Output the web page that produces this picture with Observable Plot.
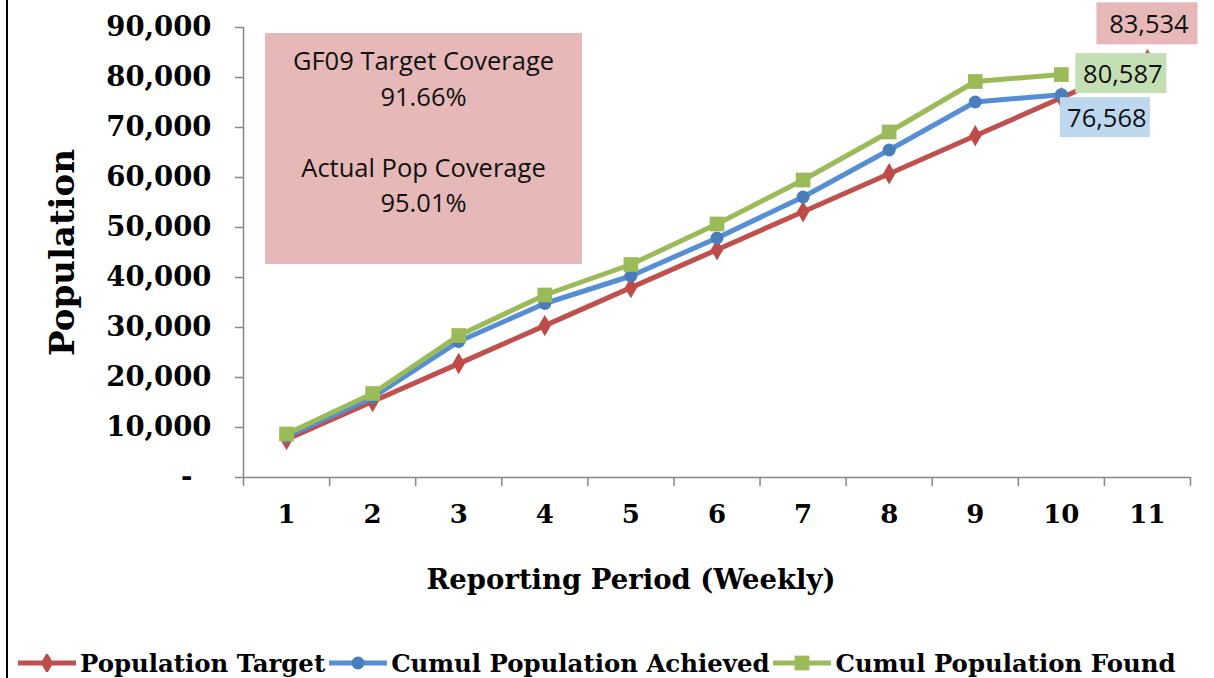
<!DOCTYPE html>
<html><head><meta charset="utf-8">
<script src="https://cdn.jsdelivr.net/npm/d3@7"></script>
<script src="https://cdn.jsdelivr.net/npm/@observablehq/plot@0.6"></script>
<style>
body{margin:0;background:#fff;width:1214px;height:678px;overflow:hidden;position:relative;}
#chart{position:absolute;left:0;top:0;}
#frame{position:absolute;left:6px;top:0;width:2px;height:678px;background:#000;}
#coverage{position:absolute;left:265px;top:33px;width:317px;height:231px;background:#E6B9B8;
  font-family:"Open Sans";font-size:25.5px;color:#111;text-align:center;line-height:35.5px;padding-top:10px;box-sizing:border-box;}
#legend{position:absolute;left:18px;top:647px;height:32px;display:flex;align-items:center;
  font-family:"DejaVu Serif";font-weight:bold;font-size:24.4px;color:#000;white-space:nowrap;}
#legend .item{display:flex;align-items:center;margin-right:4px;}
#legend svg{margin-right:4px;}
</style></head><body>
<div id="chart"></div>
<div id="frame"></div>
<div id="coverage">GF09 Target Coverage<br>91.66%<br><br>Actual Pop Coverage<br>95.01%</div>
<div id="legend"></div>
<script>
const periods = [1, 2, 3, 4, 5, 6, 7, 8, 9, 10, 11];
const populationTarget = [7594, 15188, 22782, 30376, 37970, 45564, 53158, 60752, 68346, 75940, 83534];
const cumulAchieved = [8200, 16000, 27200, 34800, 40300, 47900, 56100, 65500, 75100, 76568, null];
const cumulFound = [8700, 16800, 28400, 36500, 42600, 50700, 59500, 69100, 79200, 80587, null];
const yTicks = [0, 10000, 20000, 30000, 40000, 50000, 60000, 70000, 80000, 90000];
const seriesNames = ["Population Target", "Cumul Population Achieved", "Cumul Population Found"];
const lineColors = ["#C0504D", "#558ED5", "#9BBB59"];
const markerColors = ["#BE4B48", "#4A7EBB", "#9BBB59"];
const symbols = ["diamond", "circle", "square"];
const markerR = [6.5, 6.5, 8.3];
const seriesValues = [populationTarget, cumulAchieved, cumulFound];

const rows = seriesValues.map((vals, s) =>
  periods.map((p, i) => ({period: p, value: vals[i], series: seriesNames[s]})).filter(d => d.value != null));

const serif = "DejaVu Serif";
const gray = "#868686";
const boundaries = d3.range(0.5, periods.length + 1, 1);

const marks = [
  Plot.ruleY([0], {stroke: gray, strokeWidth: 1.5}),
  Plot.ruleX([0.5], {stroke: gray, strokeWidth: 1.5}),
  Plot.axisY({ticks: yTicks, tickSize: 8, tickPadding: 24, stroke: gray, strokeWidth: 1.5, fill: "#000",
    tickFormat: d => d === 0 ? "-\u00a0\u00a0" : d3.format(",")(d), fontSize: 27.5, fontWeight: "bold", fontFamily: serif, label: null}),
  Plot.axisX({ticks: boundaries, tickSize: 9, stroke: gray, strokeWidth: 1.5, tickFormat: () => "", label: null}),
  Plot.axisX({ticks: periods, tickSize: 0, tickPadding: 27, fill: "#000", fontSize: 26, fontWeight: "bold", fontFamily: serif, label: null}),
  Plot.text(["Population"], {frameAnchor: "left", textAnchor: "middle", rotate: -90, dx: -180, fontSize: 34, fontWeight: "bold", fontFamily: serif, fill: "#000"}),
  Plot.text(["Reporting Period (Weekly)"], {frameAnchor: "bottom", textAnchor: "middle", dx: -86, dy: 111, fontSize: 27.5, fontWeight: "bold", fontFamily: serif, fill: "#000"})
];
rows.forEach((data, s) => {
  marks.push(Plot.line(data, {x: "period", y: "value", stroke: lineColors[s], strokeWidth: 5, strokeLinejoin: "round"}));
  marks.push(Plot.dot(data, {x: "period", y: "value", symbol: symbols[s], r: markerR[s], fill: markerColors[s], stroke: "none"}));
});

const plot = Plot.plot({
  width: 1214, height: 640,
  marginLeft: 243, marginRight: 24, marginTop: 27, marginBottom: 163,
  x: {type: "linear", domain: [0.5, 11.5]},
  y: {domain: [0, 90000]},
  style: {background: "transparent", color: "#000", overflow: "visible"},
  marks
});
document.getElementById("chart").append(plot);

// data labels
const sx = plot.scale("x"), sy = plot.scale("y");
const svg = d3.select(plot);
const fmt = d3.format(",");
const labels = [
  {period: 11, value: populationTarget[10], fill: "#E6B9B8", dx: 0, dy: -36, w: 101, h: 42},
  {period: 10, value: cumulFound[9], fill: "#C4DFB4", dx: 60, dy: -1, w: 91, h: 40},
  {period: 10, value: cumulAchieved[9], fill: "#BDD7EE", dx: 44, dy: 23, w: 90, h: 40}
];
labels.forEach(l => {
  const cx = sx.apply(l.period) + l.dx, cy = sy.apply(l.value) + l.dy;
  const g = svg.append("g");
  g.append("rect").attr("x", cx - l.w / 2).attr("y", cy - l.h / 2).attr("width", l.w).attr("height", l.h).attr("fill", l.fill);
  g.append("text").attr("x", cx + 2).attr("y", cy).attr("text-anchor", "middle").attr("dominant-baseline", "central")
    .attr("font-family", "Open Sans").attr("font-size", 25.5).attr("fill", "#111").text(fmt(l.value));
});

// legend
const legend = d3.select("#legend");
seriesNames.forEach((name, s) => {
  const item = legend.append("div").attr("class", "item");
  const sw = item.append("svg").attr("width", 58).attr("height", 18);
  sw.append("line").attr("x1", 0).attr("x2", 58).attr("y1", 9).attr("y2", 9).attr("stroke", lineColors[s]).attr("stroke-width", 5);
  const sym = {diamond: d3.symbolDiamond, circle: d3.symbolCircle, square: d3.symbolSquare}[symbols[s]];
  sw.append("path").attr("transform", "translate(29,9)").attr("d", d3.symbol(sym, Math.PI * markerR[s] ** 2)()).attr("fill", markerColors[s]);
  item.append("span").text(name);
});
</script>
</body></html>
